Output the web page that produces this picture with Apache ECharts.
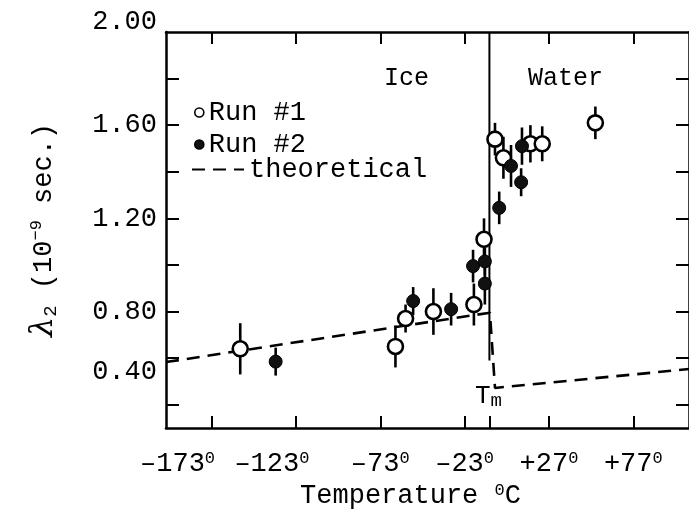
<!DOCTYPE html>
<html>
<head>
<meta charset="utf-8">
<script src="https://cdn.jsdelivr.net/npm/echarts@6/dist/echarts.min.js"></script>
<style>
  html, body { margin: 0; padding: 0; background: #fff; }
  #chart { width: 689px; height: 514px; }
</style>
</head>
<body>
<div id="chart"></div>
<script>
// Long-lived lifetime of ice and water versus temperature.
const FONT = '"Liberation Mono", "DejaVu Sans Mono", monospace';

// Run #1 (open circles): temperature in deg C, lifetime in 1e-9 s, half-length of error bar
const run1Temp = [-156, -64, -58, -41.5, -17.5, -11.5, -5, 0, 16, 23, 54.5];
const run1Tau  = [0.64, 0.65, 0.77, 0.80, 0.83, 1.11, 1.54, 1.46, 1.52, 1.52, 1.61];
const run1Err  = [0.11, 0.09, 0.06, 0.10, 0.09, 0.09, 0.07, 0.09, 0.08, 0.075, 0.07];

// Run #2 (filled circles)
const run2Temp = [-135, -53.5, -31, -18, -11, -11, -2.5, 4.5, 10.5, 11];
const run2Tau  = [0.585, 0.845, 0.81, 0.995, 1.015, 0.92, 1.245, 1.425, 1.355, 1.51];
const run2Err  = [0.06, 0.06, 0.07, 0.07, 0.06, 0.09, 0.07, 0.09, 0.06, 0.08];

// Theoretical curve (dashed): ice branch, drop at melting, water branch
const theoryTemp = [-200, -8, -5, 110];
const theoryTau  = [0.583, 0.795, 0.472, 0.553];

// Melting line position on the temperature axis and its vertical extent
const meltTemp = -8.3;
const meltTop = 2.0;
const meltBottom = 0.59;

// Axis ticks and labels
const xLabelValues = [-173, -123, -73, -23, 27, 77];
const yTickValues  = [0.4, 0.6, 0.8, 1.0, 1.2, 1.4, 1.6, 1.8];
const yLabelValues = [0.4, 0.8, 1.2, 1.6, 2.0];

const chart = echarts.init(document.getElementById('chart'), null, { renderer: 'canvas' });

function errorBars(name, temps, taus, errs) {
  return {
    type: 'custom',
    name: name,
    silent: true,
    z: 1,
    data: temps.map((t, i) => [t, taus[i] - errs[i], taus[i] + errs[i]]),
    encode: { x: 0, y: [1, 2] },
    renderItem: (params, api) => {
      const lo = api.coord([api.value(0), api.value(1)]);
      const hi = api.coord([api.value(0), api.value(2)]);
      return {
        type: 'line',
        shape: { x1: lo[0], y1: lo[1], x2: hi[0], y2: hi[1] },
        style: { stroke: '#000', lineWidth: 2.6 }
      };
    }
  };
}

const supStyle = { fontFamily: FONT, fontSize: 17, verticalAlign: 'top', color: '#000' };
const frameLine = { onZero: false, lineStyle: { color: '#000', width: 2.5 } };

const option = {
  animation: false,
  backgroundColor: '#fff',
  grid: { left: 166, right: -6, top: 32, bottom: 86 },
  xAxis: [
    {
      type: 'value', position: 'bottom', min: -200, max: 110,
      axisLine: frameLine,
      axisTick: { inside: true, length: 12, customValues: xLabelValues.concat([meltTemp]), lineStyle: { color: '#000', width: 2 } },
      splitLine: { show: false },
      axisLabel: {
        customValues: xLabelValues,
        margin: 22,
        color: '#000', fontFamily: FONT, fontSize: 27,
        formatter: v => {
          const sign = v > 0 ? '+' : '\u2013';
          const key = v === -173 ? 'sa' : (v === -123 ? 'sb' : 's');
          return sign + Math.abs(v) + '{' + key + '|0}';
        },
        rich: {
          s: supStyle,
          sa: Object.assign({}, supStyle, { padding: [0, 68, 0, 0] }),
          sb: Object.assign({}, supStyle, { padding: [0, 48, 0, 0] })
        }
      },
      name: 'Temperature {s|0}C',
      nameLocation: 'middle',
      nameGap: 54,
      nameTextStyle: {
        color: '#000', fontFamily: FONT, fontSize: 27,
        padding: [0, 34, 0, 0],
        rich: { s: supStyle }
      }
    },
    {
      type: 'value', position: 'top', min: -200, max: 110,
      axisLine: frameLine,
      axisTick: { inside: true, length: 12, customValues: xLabelValues, lineStyle: { color: '#000', width: 2 } },
      axisLabel: { show: false },
      splitLine: { show: false }
    }
  ],
  yAxis: [
    {
      type: 'value', position: 'left', min: 0.30, max: 2.0,
      axisLine: frameLine,
      axisTick: { inside: true, length: 13, customValues: yTickValues, lineStyle: { color: '#000', width: 2 } },
      splitLine: { show: false },
      axisLabel: {
        customValues: yLabelValues,
        margin: 9,
        color: '#000', fontFamily: FONT, fontSize: 27,
        formatter: v => {
          const t = v.toFixed(2);
          if (Math.abs(v - 2.0) < 1e-6) return '{hi|' + t + '}';
          if (Math.abs(v - 0.4) < 1e-6) return '{lo|' + t + '}';
          return t;
        },
        rich: {
          hi: { fontFamily: FONT, fontSize: 27, color: '#000', padding: [0, 0, 20, 0] },
          lo: { fontFamily: FONT, fontSize: 27, color: '#000', padding: [0, 0, 66, 0] }
        }
      },
      name: '{g|\u03BB}{sub|2} (10{sup|\u22129} sec.)',
      nameLocation: 'middle',
      nameRotate: 90,
      nameGap: 106,
      nameTextStyle: {
        color: '#000', fontFamily: FONT, fontSize: 27,
        rich: {
          g: { fontFamily: '"DejaVu Serif", serif', fontStyle: 'italic', fontSize: 32, color: '#000' },
          sub: { fontFamily: FONT, fontSize: 19, verticalAlign: 'bottom', color: '#000' },
          sup: { fontFamily: FONT, fontSize: 17, verticalAlign: 'top', color: '#000' }
        }
      }
    },
    {
      type: 'value', position: 'right', min: 0.30, max: 2.0,
      axisLine: frameLine,
      axisTick: { inside: true, length: 13, customValues: yTickValues, lineStyle: { color: '#000', width: 2 } },
      axisLabel: { show: false },
      splitLine: { show: false }
    }
  ],
  legend: [
    {
      data: ['Run #1', 'Run #2'],
      orient: 'vertical',
      left: 189, top: 94,
      itemWidth: 9, itemHeight: 9, itemGap: 5,
      selectedMode: false,
      itemStyle: { borderWidth: 1.6 },
      textStyle: { color: '#000', fontFamily: FONT, fontSize: 27 }
    },
    {
      data: ['theoretical'],
      left: 186, top: 151,
      itemWidth: 52, itemHeight: 12,
      selectedMode: false,
      itemStyle: { opacity: 0 },
      lineStyle: { opacity: 1 },
      textStyle: { color: '#000', fontFamily: FONT, fontSize: 27 }
    }
  ],
  graphic: [
    { type: 'text', left: 384, top: 66, style: { text: 'Ice', fill: '#000', font: '25px ' + FONT } },
    { type: 'text', left: 528, top: 66, style: { text: 'Water', fill: '#000', font: '25px ' + FONT } },
    {
      type: 'text', left: 475, top: 383,
      style: {
        text: '{t|T}{m|m}',
        rich: {
          t: { fontFamily: FONT, fontSize: 26, fill: '#000', color: '#000' },
          m: { fontFamily: FONT, fontSize: 19, fill: '#000', color: '#000', verticalAlign: 'bottom', padding: [10, 0, 0, 0] }
        }
      }
    }
  ],
  series: [
    {
      name: 'theoretical',
      type: 'line',
      data: theoryTemp.map((t, i) => [t, theoryTau[i]]),
      symbol: 'none',
      lineStyle: { color: '#000', width: 2.6, type: [13, 8] },
      itemStyle: { color: '#000' },
      z: 1
    },
    {
      name: 'melting line',
      type: 'line',
      data: [[meltTemp, meltTop], [meltTemp, meltBottom]],
      symbol: 'none',
      lineStyle: { color: '#000', width: 2 },
      z: 1
    },
    errorBars('Run #1 error', run1Temp, run1Tau, run1Err),
    errorBars('Run #2 error', run2Temp, run2Tau, run2Err),
    {
      name: 'Run #1',
      type: 'scatter',
      data: run1Temp.map((t, i) => [t, run1Tau[i]]),
      symbol: 'circle',
      symbolSize: 15,
      itemStyle: { color: '#fff', borderColor: '#000', borderWidth: 2.6, opacity: 1 },
      z: 3
    },
    {
      name: 'Run #2',
      type: 'scatter',
      data: run2Temp.map((t, i) => [t, run2Tau[i]]),
      symbol: 'circle',
      symbolSize: 13,
      itemStyle: { color: '#111', borderColor: '#000', borderWidth: 1, opacity: 1 },
      z: 4
    }
  ]
};

chart.setOption(option);
</script>
</body>
</html>
